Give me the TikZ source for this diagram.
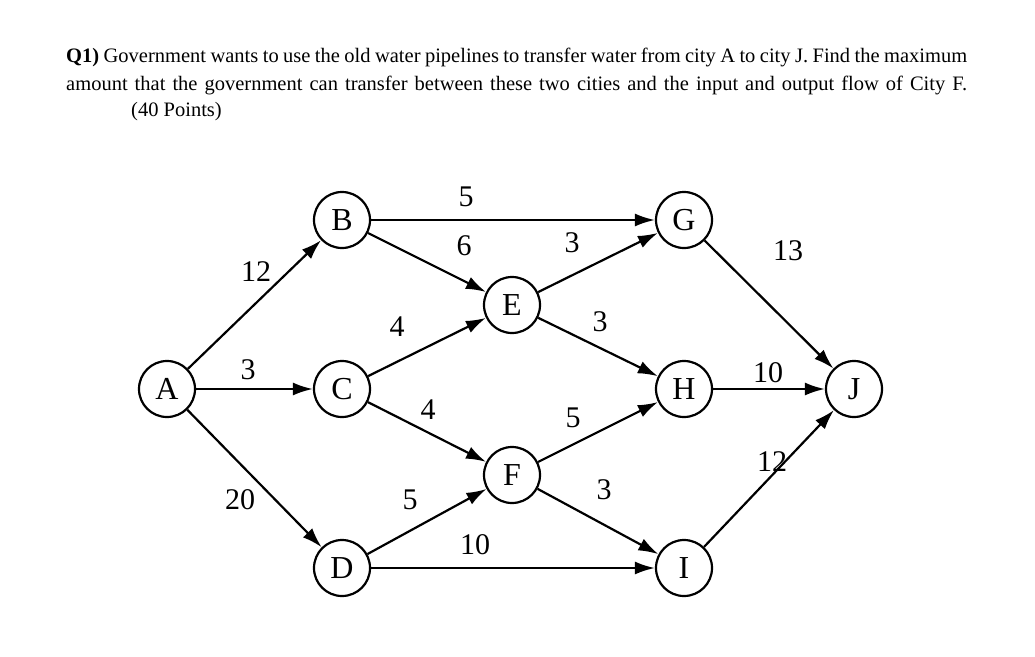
\documentclass[tikz,border=0pt]{standalone}
\usepackage{fontspec}
\setmainfont{Liberation Serif}
\usetikzlibrary{arrows.meta}
\begin{document}
\begin{tikzpicture}[x=1pt,y=-1pt,
  city/.style={circle,draw,line width=2.2pt,minimum size=56pt,inner sep=0pt,font=\fontsize{32}{32}\selectfont},
  pipe/.style={line width=2.2pt,-{Latex[length=20pt,width=13pt]}},
  flowlbl/.style={font=\fontsize{30}{30}\selectfont,inner sep=1pt},
  txt/.style={anchor=base west,inner sep=0pt,font=\fontsize{20.5}{22}\selectfont}]
\useasboundingbox (0,0) rectangle (1035,656);
\fill[white] (0,0) rectangle (1035,656);
\node[txt] (l1) at (66,62) {\makebox[901pt][s]{\textbf{Q1)} Government wants to use the old water pipelines to transfer water from city A to city J. Find the maximum}};
\node[txt] (l2) at (66,90) {\makebox[901pt][s]{amount that the government can transfer between these two cities and the input and output flow of City F.}};
\node[txt] (l3) at (131,116) {(40 Points)};
\node[city] (A) at (167,389) {A};
\node[city] (B) at (342,220) {B};
\node[city] (C) at (342,389) {C};
\node[city] (D) at (342,568) {D};
\node[city] (E) at (512,305) {E};
\node[city] (F) at (512,475) {F};
\node[city] (G) at (684,220) {G};
\node[city] (H) at (684,389) {H};
\node[city] (I) at (684,568) {I};
\node[city] (J) at (854,389) {J};
\draw[pipe] (A) -- (B);
\draw[pipe] (A) -- (C);
\draw[pipe] (A) -- (D);
\draw[pipe] (B) -- (G);
\draw[pipe] (B) -- (E);
\draw[pipe] (C) -- (E);
\draw[pipe] (C) -- (F);
\draw[pipe] (D) -- (F);
\draw[pipe] (D) -- (I);
\draw[pipe] (E) -- (G);
\draw[pipe] (E) -- (H);
\draw[pipe] (F) -- (H);
\draw[pipe] (F) -- (I);
\draw[pipe] (G) -- (J);
\draw[pipe] (H) -- (J);
\draw[pipe] (I) -- (J);
\node[flowlbl] (c1) at (256,272) {12};
\node[flowlbl] (c2) at (248,370) {3};
\node[flowlbl] (c3) at (240,500) {20};
\node[flowlbl] (c4) at (466,197) {5};
\node[flowlbl] (c5) at (464,246) {6};
\node[flowlbl] (c6) at (397,327) {4};
\node[flowlbl] (c7) at (428,410) {4};
\node[flowlbl] (c8) at (410,500) {5};
\node[flowlbl] (c9) at (475,545) {10};
\node[flowlbl] (c10) at (572,243) {3};
\node[flowlbl] (c11) at (600,322) {3};
\node[flowlbl] (c12) at (573,418) {5};
\node[flowlbl] (c13) at (604,490) {3};
\node[flowlbl] (c14) at (788,251) {13};
\node[flowlbl] (c15) at (768,373) {10};
\node[flowlbl] (c16) at (772,462) {12};
\end{tikzpicture}
\end{document}
